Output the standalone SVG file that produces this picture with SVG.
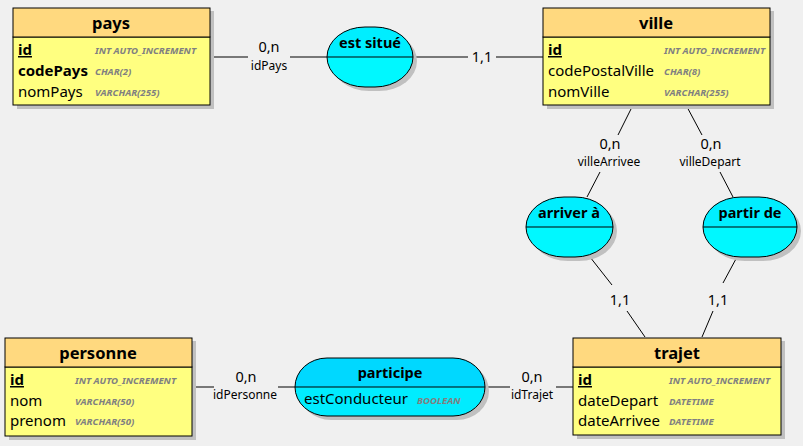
<svg xmlns="http://www.w3.org/2000/svg" width="803" height="446" viewBox="0 0 803 446">
<style>
.bg{fill:#f0f0f0}
.sh{fill:#c0c0c0}
.hd{fill:#ffd97f;stroke:#000;stroke-width:1}
.bd{fill:#ffff80;stroke:#000;stroke-width:1}
.ah{fill:#00eeff}
.ab{fill:#00f8ff}
.out{fill:none;stroke:#000;stroke-width:1}
.ln{stroke:#000;stroke-width:1;fill:none}
text{font-family:"Noto Sans","Open Sans","DejaVu Sans",sans-serif;fill:#000}
.t{font-size:16.5px;font-weight:bold;text-anchor:middle}
.a{font-size:14.5px;font-weight:bold;text-anchor:middle}
.f{font-size:15px}
.k{font-size:15px;font-weight:bold}
.u{text-decoration:underline}
.ty{font-size:9.6px;font-style:italic;font-weight:bold;fill:#808080}
.c{font-size:14.5px;text-anchor:middle}
.r{font-size:12px;text-anchor:middle}
</style>
<rect class="bg" x="0" y="0" width="803" height="446"/>

<g id="connectors">
<path class="ln" d="M210 57H248M290 57H327"/>
<path class="ln" d="M413 57H468M496 57H543"/>
<path class="ln" d="M633 105L618 135M600 172L587 197"/>
<path class="ln" d="M686 105L702 135M720 172L733 197"/>
<path class="ln" d="M590 257L612 285M627 311L645 337"/>
<path class="ln" d="M737 257L723 283M713 311L702 337"/>
<path class="ln" d="M192 387H214M278 387H295"/>
<path class="ln" d="M485 387H510M556 387H573"/>
<text class="c" x="269" y="52">0,n</text>
<text class="r" x="269" y="70">idPays</text>
<text class="c" x="482" y="62">1,1</text>
<text class="c" x="610" y="149">0,n</text>
<text class="r" x="609" y="166">villeArrivee</text>
<text class="c" x="711" y="149">0,n</text>
<text class="r" x="710" y="166">villeDepart</text>
<text class="c" x="620" y="305">1,1</text>
<text class="c" x="718" y="305">1,1</text>
<text class="c" x="246" y="382">0,n</text>
<text class="r" x="245" y="399">idPersonne</text>
<text class="c" x="532" y="382">0,n</text>
<text class="r" x="532" y="399">idTrajet</text>
</g>

<g id="pays">
<rect class="sh" x="17" y="11" width="197" height="98"/>
<rect class="bd" x="13" y="37" width="197" height="68"/>
<rect class="hd" x="13" y="8" width="197" height="29"/>
<text class="t" x="111" y="29">pays</text>
<text class="k u" x="18" y="55">id</text>
<text class="ty" x="95" y="53.5">INT AUTO_INCREMENT</text>
<text class="k" x="18" y="76">codePays</text>
<text class="ty" x="95" y="74.5">CHAR(2)</text>
<text class="f" x="18" y="97">nomPays</text>
<text class="ty" x="95" y="95.5">VARCHAR(255)</text>
</g>

<g id="ville">
<rect class="sh" x="547" y="11" width="227" height="98"/>
<rect class="bd" x="543" y="37" width="227" height="68"/>
<rect class="hd" x="543" y="8" width="227" height="29"/>
<text class="t" x="656" y="29">ville</text>
<text class="k u" x="548" y="55">id</text>
<text class="ty" x="664" y="53.5">INT AUTO_INCREMENT</text>
<text class="f" x="548" y="76">codePostalVille</text>
<text class="ty" x="664" y="74.5">CHAR(8)</text>
<text class="f" x="548" y="97">nomVille</text>
<text class="ty" x="664" y="95.5">VARCHAR(255)</text>
</g>

<g id="personne">
<rect class="sh" x="9" y="341" width="187" height="99"/>
<rect class="bd" x="5" y="367" width="187" height="69"/>
<rect class="hd" x="5" y="338" width="187" height="29"/>
<text class="t" x="98" y="359">personne</text>
<text class="k u" x="10" y="385">id</text>
<text class="ty" x="75" y="383.5">INT AUTO_INCREMENT</text>
<text class="f" x="10" y="406">nom</text>
<text class="ty" x="75" y="404.5">VARCHAR(50)</text>
<text class="f" x="10" y="426">prenom</text>
<text class="ty" x="75" y="424.5">VARCHAR(50)</text>
</g>

<g id="trajet">
<rect class="sh" x="577" y="341" width="208" height="98"/>
<rect class="bd" x="573" y="367" width="208" height="68"/>
<rect class="hd" x="573" y="338" width="208" height="29"/>
<text class="t" x="677" y="359">trajet</text>
<text class="k u" x="578" y="385">id</text>
<text class="ty" x="669" y="383.5">INT AUTO_INCREMENT</text>
<text class="f" x="578" y="406">dateDepart</text>
<text class="ty" x="669" y="404.5">DATETIME</text>
<text class="f" x="578" y="426">dateArrivee</text>
<text class="ty" x="669" y="424.5">DATETIME</text>
</g>

<g id="est_situe">
<rect class="sh" x="331" y="31" width="86" height="60" rx="38" ry="30"/>
<clipPath id="c1"><rect x="327" y="27" width="86" height="60" rx="38" ry="30"/></clipPath>
<g clip-path="url(#c1)"><rect class="ab" x="327" y="27" width="86" height="60"/><rect class="ah" x="327" y="27" width="86" height="30"/></g>
<rect class="out" x="327" y="27" width="86" height="60" rx="38" ry="30"/>
<path class="ln" d="M327 57H413"/>
<text class="a" x="370" y="48">est situé</text>
</g>

<g id="arriver_a">
<rect class="sh" x="530" y="201" width="87" height="60" rx="38" ry="30"/>
<clipPath id="c2"><rect x="526" y="197" width="87" height="60" rx="38" ry="30"/></clipPath>
<g clip-path="url(#c2)"><rect class="ab" x="526" y="197" width="87" height="60"/><rect class="ah" x="526" y="197" width="87" height="30"/></g>
<rect class="out" x="526" y="197" width="87" height="60" rx="38" ry="30"/>
<path class="ln" d="M526 227H613"/>
<text class="a" x="569" y="218">arriver à</text>
</g>

<g id="partir_de">
<rect class="sh" x="707" y="201" width="94" height="60" rx="38" ry="30"/>
<clipPath id="c3"><rect x="703" y="197" width="94" height="60" rx="38" ry="30"/></clipPath>
<g clip-path="url(#c3)"><rect class="ab" x="703" y="197" width="94" height="60"/><rect class="ah" x="703" y="197" width="94" height="30"/></g>
<rect class="out" x="703" y="197" width="94" height="60" rx="38" ry="30"/>
<path class="ln" d="M703 227H797"/>
<text class="a" x="750" y="218">partir de</text>
</g>

<g id="participe">
<rect class="sh" x="299" y="362" width="190" height="58" rx="32" ry="29"/>
<clipPath id="c4"><rect x="295" y="358" width="190" height="58" rx="32" ry="29"/></clipPath>
<g clip-path="url(#c4)"><rect x="295" y="358" width="190" height="58" style="fill:#00ecff"/><rect x="295" y="358" width="190" height="29" style="fill:#00d8ff"/></g>
<rect class="out" x="295" y="358" width="190" height="58" rx="32" ry="29"/>
<path class="ln" d="M295 387H485"/>
<text class="a" x="390" y="378">participe</text>
<text class="f" x="304" y="404">estConducteur</text>
<text class="ty" x="417" y="403.5">BOOLEAN</text>
</g>
</svg>
